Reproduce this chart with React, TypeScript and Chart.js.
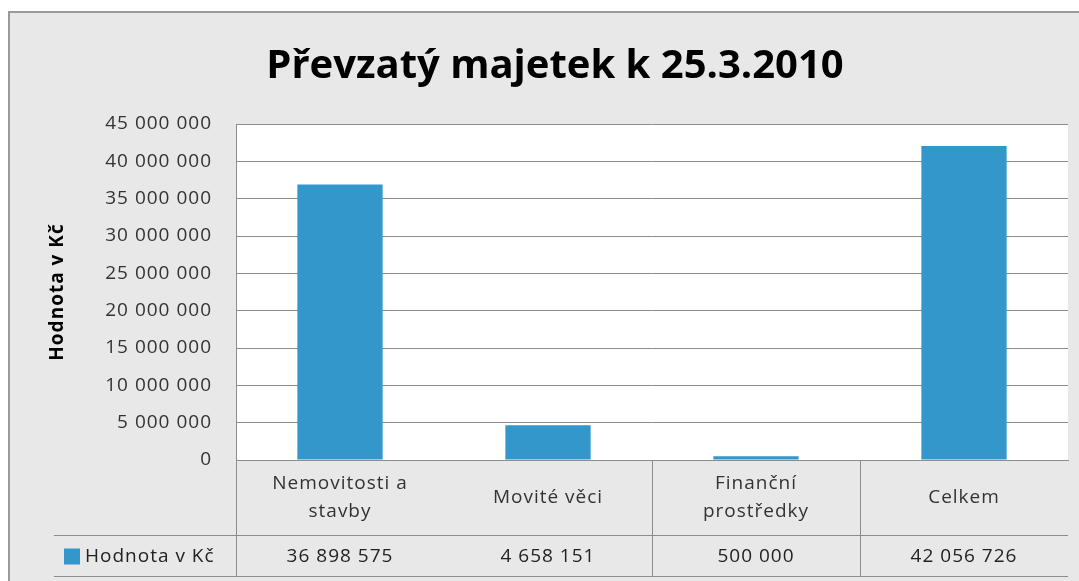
import React, { useEffect, useRef } from "react";
import { Chart, registerables } from "chart.js";

Chart.register(...registerables);

const TITLE = "Převzatý majetek k 25.3.2010";
const Y_TITLE = "Hodnota v Kč";
const SERIES_NAME = "Hodnota v Kč";
const CATEGORIES: string[][] = [
  ["Nemovitosti a", "stavby"],
  ["Movité věci"],
  ["Finanční", "prostředky"],
  ["Celkem"],
];
const VALUES: number[] = [36898575, 4658151, 500000, 42056726];
const Y_MIN = 0;
const Y_MAX = 45000000;
const Y_STEP = 5000000;

const BAR_COLOR = "#3497cb";
const LINE_COLOR = "#8c8c8c";
const BG = "#e8e8e8";
const FONT = "'Open Sans', 'DejaVu Sans', sans-serif";
const SPACING = "1px";

const fmt = (v: number) => String(Math.round(v)).replace(/\B(?=(\d{3})+(?!\d))/g, " ");

const spacing = {
  id: "spacing",
  beforeUpdate(chart: any) {
    chart.ctx.letterSpacing = SPACING;
  },
  beforeDraw(chart: any) {
    chart.ctx.letterSpacing = SPACING;
  },
};

const plotBg = {
  id: "plotBg",
  beforeDraw(chart: any) {
    const { ctx, chartArea } = chart;
    ctx.save();
    ctx.fillStyle = "#ffffff";
    ctx.fillRect(chartArea.left, chartArea.top, chartArea.right - chartArea.left, chartArea.bottom - chartArea.top);
    ctx.restore();
  },
};

const titlePlugin = {
  id: "mainTitle",
  afterDraw(chart: any) {
    const { ctx } = chart;
    ctx.save();
    ctx.letterSpacing = "0px";
    ctx.font = `bold 40px ${FONT}`;
    ctx.fillStyle = "#000000";
    ctx.textAlign = "center";
    ctx.textBaseline = "alphabetic";
    ctx.fillText(TITLE, 555, 78);
    ctx.restore();
  },
};

const dataTable = {
  id: "dataTable",
  afterDraw(chart: any) {
    const { ctx, chartArea, scales } = chart;
    const x = scales.x;
    const n = CATEGORIES.length;
    const colW = (chartArea.right - chartArea.left) / n;
    const rowTop = chartArea.bottom;
    const rowMid = rowTop + 75;
    const rowBot = rowTop + 116;
    const tableLeft = 54;
    ctx.save();
    ctx.strokeStyle = LINE_COLOR;
    ctx.lineWidth = 1;
    ctx.beginPath();
    ctx.moveTo(tableLeft, rowMid + 0.5);
    ctx.lineTo(chartArea.right, rowMid + 0.5);
    ctx.moveTo(tableLeft, rowBot + 0.5);
    ctx.lineTo(chartArea.right, rowBot + 0.5);
    ctx.moveTo(chartArea.left + 0.5, rowTop);
    ctx.lineTo(chartArea.left + 0.5, rowBot);
    for (let i = 2; i < n; i++) {
      const bx = Math.round(chartArea.left + i * colW) + 0.5;
      ctx.moveTo(bx, rowTop);
      ctx.lineTo(bx, rowBot);
    }
    ctx.stroke();

    const cy = (rowMid + rowBot) / 2 + 1;
    ctx.letterSpacing = SPACING;
    ctx.font = `19px ${FONT}`;
    ctx.fillStyle = "#222222";
    ctx.textAlign = "center";
    ctx.textBaseline = "middle";
    VALUES.forEach((v, i) => {
      ctx.fillText(fmt(v), x.getPixelForValue(i), cy);
    });

    // legend key
    ctx.fillStyle = BAR_COLOR;
    ctx.fillRect(64, cy - 8, 16, 16);
    ctx.fillStyle = "#222222";
    ctx.textAlign = "left";
    ctx.fillText(SERIES_NAME, 85, cy);
    ctx.restore();
  },
};

export default function App() {
  const ref = useRef<HTMLCanvasElement | null>(null);
  useEffect(() => {
    if (!ref.current) return;
    const chart = new Chart(ref.current, {
      type: "bar",
      data: {
        labels: CATEGORIES,
        datasets: [
          {
            label: SERIES_NAME,
            data: VALUES,
            backgroundColor: BAR_COLOR,
            borderWidth: 0,
            barPercentage: 0.41,
            categoryPercentage: 1,
          },
        ],
      },
      options: {
        animation: false,
        responsive: false,
        devicePixelRatio: 1,
        layout: { padding: { left: 42, right: 11, top: 124, bottom: 0 } },
        plugins: {
          legend: { display: false },
          tooltip: { enabled: false },
          title: { display: false },
        },
        scales: {
          x: {
            grid: { display: false, drawTicks: false },
            border: { display: true, color: LINE_COLOR, width: 1 },
            ticks: {
              color: "#333333",
              font: { family: FONT, size: 19, lineHeight: 1.474 },
              padding: 24,
              maxRotation: 0,
              autoSkip: false,
              crossAlign: "center",
            },
            afterFit(scale: any) {
              scale.height = 121;
            },
          },
          y: {
            min: Y_MIN,
            max: Y_MAX,
            grid: { color: LINE_COLOR, drawTicks: false },
            border: { display: true, color: LINE_COLOR, width: 1 },
            ticks: {
              stepSize: Y_STEP,
              color: "#333333",
              font: { family: FONT, size: 19 },
              padding: 24,
              callback: (v: any) => fmt(Number(v)),
            },
            title: {
              display: true,
              text: Y_TITLE,
              color: "#000000",
              font: { family: FONT, size: 19, weight: "bold" },
              padding: { top: 4, bottom: 0 },
            },
            afterFit(scale: any) {
              scale.width = 194;
            },
          },
        },
      },
      plugins: [spacing, plotBg, titlePlugin, dataTable],
    });
    return () => chart.destroy();
  }, []);

  return (
    <div style={{ position: "absolute", left: 0, top: 0, width: 1079, height: 581, overflow: "hidden", background: "#ffffff" }}>
      <div
        style={{
          position: "absolute",
          left: 8,
          top: 11,
          width: 1200,
          height: 700,
          background: BG,
          border: "2px solid #9a9a9a",
        }}
      />
      <canvas ref={ref} width={1079} height={581} style={{ position: "absolute", left: 0, top: 0, width: 1079, height: 581 }} />
    </div>
  );
}
